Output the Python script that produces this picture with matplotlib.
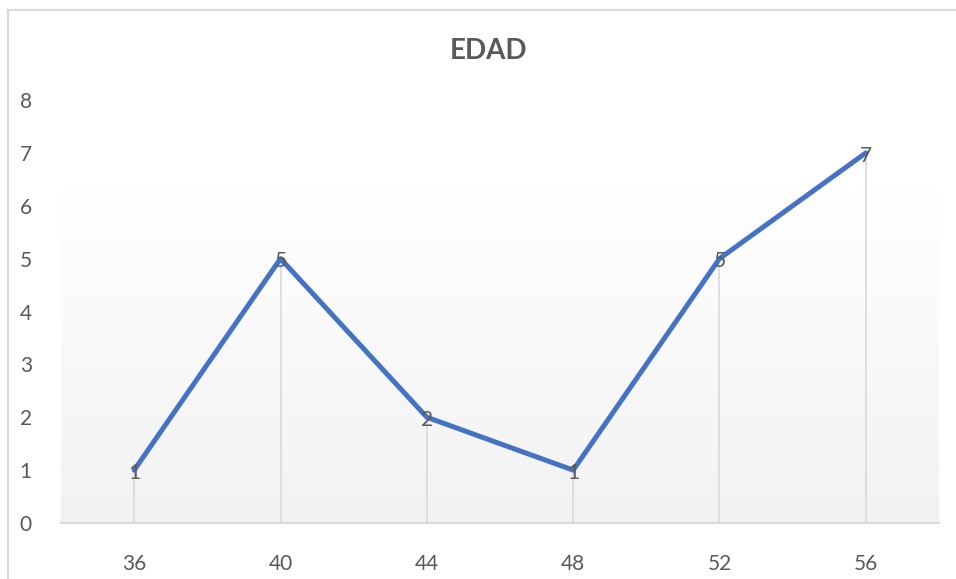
import numpy as np
import matplotlib
matplotlib.use("Agg")
import matplotlib.pyplot as plt
from matplotlib.patches import Rectangle
from matplotlib.colors import LinearSegmentedColormap

categories = ["36", "40", "44", "48", "52", "56"]
values = [1, 5, 2, 1, 5, 7]
y_ticks = [0, 1, 2, 3, 4, 5, 6, 7, 8]
title = "EDAD"

plt.rcParams["font.family"] = ["Lato", "DejaVu Sans"]
text_color = "#595959"
grid_color = "#d9d9d9"
line_color = "#4472C4"

W, H = 956, 579
fig = plt.figure(figsize=(W / 100, H / 100), dpi=100)
fig.patch.set_facecolor("white")

# chart frame
fig.patches.append(Rectangle((8 / W, -0.1), 1.2, 1 - 10 / H + 0.1,
                             transform=fig.transFigure, fill=False,
                             edgecolor=grid_color, linewidth=1.5))

ax = fig.add_axes([61 / W, 1 - 523 / H, (939 - 61) / W, (523 - 100) / H])
ax.set_facecolor("none")
x = np.arange(len(categories))
ax.set_xlim(-0.5, len(categories) - 0.5)
ax.set_ylim(0, 8)

# soft vertical gradient behind the plot
cmap = LinearSegmentedColormap.from_list("fade", ["#f2f2f2", "#ffffff"])
grad = np.linspace(0, 1, 256).reshape(-1, 1)
ax.imshow(grad, cmap=cmap, origin="lower", aspect="auto",
          extent=[-0.5, len(categories) - 0.5, 0, 6.3], zorder=0)

# drop lines
ax.vlines(x, 0, values, colors=grid_color, linewidth=1.2, zorder=1)

ax.plot(x, values, color=line_color, linewidth=3.6, solid_capstyle="round",
        solid_joinstyle="round", zorder=2)

for xi, v in zip(x, values):
    ax.annotate(str(v), (xi, v), xytext=(0, -2), textcoords="offset points",
                ha="center", va="center", fontsize=15,
                color=text_color, zorder=3)

for s in ["top", "right", "left"]:
    ax.spines[s].set_visible(False)
ax.spines["bottom"].set_color(grid_color)
ax.spines["bottom"].set_linewidth(1.5)

ax.set_xticks(x)
ax.set_xticklabels(categories)
ax.set_yticks(y_ticks)
ax.tick_params(axis="both", length=0, labelsize=15, labelcolor=text_color)
ax.tick_params(axis="x", pad=22)
ax.tick_params(axis="y", pad=21)

fig.text(488 / W, 1 - 51 / H, title, ha="center", va="center",
         fontsize=20, fontweight="bold", color=text_color)

fig.savefig("out.png", dpi=100)
